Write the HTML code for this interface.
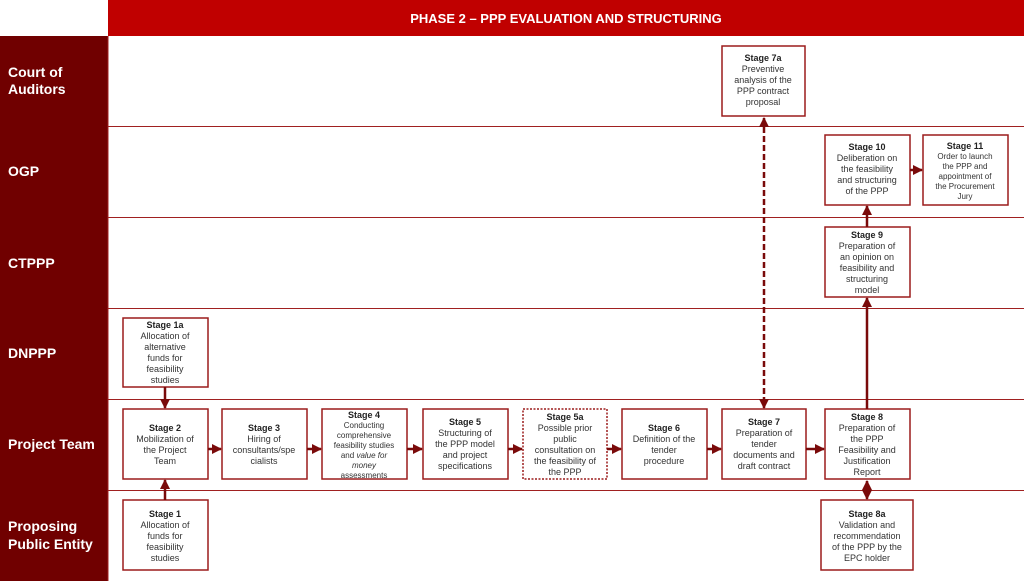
<!DOCTYPE html>
<html><head><meta charset="utf-8"><style>
body{margin:0;width:1024px;height:581px;overflow:hidden;background:#fff;font-family:"Liberation Sans",sans-serif}
svg text{font-family:"Liberation Sans",sans-serif}
</style></head><body>
<svg width="1024" height="581" viewBox="0 0 1024 581" xmlns="http://www.w3.org/2000/svg">
<defs>
<marker id="a" viewBox="0 0 10 10" refX="9" refY="5" markerWidth="4" markerHeight="4" orient="auto-start-reverse"><path d="M0,0L10,5L0,10z" fill="#7a0a0a"/></marker>
</defs>
<rect x="108" y="0" width="916" height="36" fill="#c00000"/>
<text x="566" y="23" fill="#fff" font-size="13" font-weight="bold" text-anchor="middle">PHASE 2 – PPP EVALUATION AND STRUCTURING</text>
<rect x="0" y="36" width="108" height="545" fill="#700000"/>
<g stroke="#a02020" stroke-width="1">
<line x1="108" y1="126.5" x2="1024" y2="126.5"/><line x1="108" y1="217.5" x2="1024" y2="217.5"/>
<line x1="108" y1="308.5" x2="1024" y2="308.5"/><line x1="108" y1="399.5" x2="1024" y2="399.5"/>
<line x1="108" y1="490.5" x2="1024" y2="490.5"/>
<line x1="108" y1="36" x2="108" y2="581"/>
</g>
<g fill="#fff" font-size="14" font-weight="bold">
<text x="8" y="77">Court of</text><text x="8" y="94">Auditors</text>
<text x="8" y="176">OGP</text><text x="8" y="268">CTPPP</text><text x="8" y="358">DNPPP</text>
<text x="8" y="449">Project Team</text>
<text x="8" y="531">Proposing</text><text x="8" y="549">Public Entity</text>
</g>
<g fill="#fff" stroke="#9b1c1c" stroke-width="1.5">
<rect x="722" y="46" width="83" height="70"/>
<rect x="825" y="135" width="85" height="70"/><rect x="923" y="135" width="85" height="70"/>
<rect x="825" y="227" width="85" height="70"/>
<rect x="123" y="318" width="85" height="69"/>
<rect x="123" y="409" width="85" height="70"/><rect x="222" y="409" width="85" height="70"/>
<rect x="322" y="409" width="85" height="70"/><rect x="423" y="409" width="85" height="70"/>
<rect x="523" y="409" width="84" height="70" stroke-dasharray="2,1.5"/>
<rect x="622" y="409" width="85" height="70"/><rect x="722" y="409" width="84" height="70"/>
<rect x="825" y="409" width="85" height="70"/>
<rect x="123" y="500" width="85" height="70"/><rect x="821" y="500" width="92" height="70"/>
</g>
<g stroke="#7a0a0a" stroke-width="2.5" fill="none" marker-end="url(#a)">
<line x1="165" y1="387" x2="165" y2="408"/>
<line x1="165" y1="500" x2="165" y2="480"/>
<line x1="208" y1="449" x2="221" y2="449"/>
<line x1="307" y1="449" x2="321" y2="449"/>
<line x1="407" y1="449" x2="422" y2="449"/>
<line x1="508" y1="449" x2="522" y2="449"/>
<line x1="607" y1="449" x2="621" y2="449"/>
<line x1="707" y1="449" x2="721" y2="449"/>
<line x1="806" y1="449" x2="824" y2="449"/>
<line x1="910" y1="170" x2="922" y2="170"/>
<line x1="867" y1="409" x2="867" y2="298"/>
<line x1="867" y1="227" x2="867" y2="206"/>
<line x1="764" y1="118" x2="764" y2="408" stroke-dasharray="6,3" marker-start="url(#a)"/>
<line x1="867" y1="481" x2="867" y2="499" marker-start="url(#a)"/>
</g>
<g font-size="9" fill="#333" text-anchor="middle">
<text x="763" y="61"><tspan font-weight="bold" fill="#222">Stage 7a</tspan><tspan x="763" dy="11">Preventive</tspan><tspan x="763" dy="11">analysis of the</tspan><tspan x="763" dy="11">PPP contract</tspan><tspan x="763" dy="11">proposal</tspan></text>
<text x="867" y="150"><tspan font-weight="bold" fill="#222">Stage 10</tspan><tspan x="867" dy="11">Deliberation on</tspan><tspan x="867" dy="11">the feasibility</tspan><tspan x="867" dy="11">and structuring</tspan><tspan x="867" dy="11">of the PPP</tspan></text>
<text x="965" y="149" font-size="8"><tspan font-weight="bold" fill="#222" font-size="9">Stage 11</tspan><tspan x="965" dy="10">Order to launch</tspan><tspan x="965" dy="10">the PPP and</tspan><tspan x="965" dy="10">appointment of</tspan><tspan x="965" dy="10">the Procurement</tspan><tspan x="965" dy="10">Jury</tspan></text>
<text x="867" y="238"><tspan font-weight="bold" fill="#222">Stage 9</tspan><tspan x="867" dy="11">Preparation of</tspan><tspan x="867" dy="11">an opinion on</tspan><tspan x="867" dy="11">feasibility and</tspan><tspan x="867" dy="11">structuring</tspan><tspan x="867" dy="11">model</tspan></text>
<text x="165" y="328"><tspan font-weight="bold" fill="#222">Stage 1a</tspan><tspan x="165" dy="11">Allocation of</tspan><tspan x="165" dy="11">alternative</tspan><tspan x="165" dy="11">funds for</tspan><tspan x="165" dy="11">feasibility</tspan><tspan x="165" dy="11">studies</tspan></text>
<text x="165" y="431"><tspan font-weight="bold" fill="#222">Stage 2</tspan><tspan x="165" dy="11">Mobilization of</tspan><tspan x="165" dy="11">the Project</tspan><tspan x="165" dy="11">Team</tspan></text>
<text x="264" y="431"><tspan font-weight="bold" fill="#222">Stage 3</tspan><tspan x="264" dy="11">Hiring of</tspan><tspan x="264" dy="11">consultants/spe</tspan><tspan x="264" dy="11">cialists</tspan></text>
<text x="364" y="418" font-size="8"><tspan font-weight="bold" fill="#222" font-size="9">Stage 4</tspan><tspan x="364" dy="10">Conducting</tspan><tspan x="364" dy="10">comprehensive</tspan><tspan x="364" dy="10">feasibility studies</tspan><tspan x="364" dy="10">and <tspan font-style="italic">value for</tspan></tspan><tspan x="364" dy="10" font-style="italic">money</tspan><tspan x="364" dy="10">assessments</tspan></text>
<text x="465" y="425"><tspan font-weight="bold" fill="#222">Stage 5</tspan><tspan x="465" dy="11">Structuring of</tspan><tspan x="465" dy="11">the PPP model</tspan><tspan x="465" dy="11">and project</tspan><tspan x="465" dy="11">specifications</tspan></text>
<text x="565" y="420"><tspan font-weight="bold" fill="#222">Stage 5a</tspan><tspan x="565" dy="11">Possible prior</tspan><tspan x="565" dy="11">public</tspan><tspan x="565" dy="11">consultation on</tspan><tspan x="565" dy="11">the feasibility of</tspan><tspan x="565" dy="11">the PPP</tspan></text>
<text x="664" y="431"><tspan font-weight="bold" fill="#222">Stage 6</tspan><tspan x="664" dy="11">Definition of the</tspan><tspan x="664" dy="11">tender</tspan><tspan x="664" dy="11">procedure</tspan></text>
<text x="764" y="425"><tspan font-weight="bold" fill="#222">Stage 7</tspan><tspan x="764" dy="11">Preparation of</tspan><tspan x="764" dy="11">tender</tspan><tspan x="764" dy="11">documents and</tspan><tspan x="764" dy="11">draft contract</tspan></text>
<text x="867" y="420"><tspan font-weight="bold" fill="#222">Stage 8</tspan><tspan x="867" dy="11">Preparation of</tspan><tspan x="867" dy="11">the PPP</tspan><tspan x="867" dy="11">Feasibility and</tspan><tspan x="867" dy="11">Justification</tspan><tspan x="867" dy="11">Report</tspan></text>
<text x="165" y="517"><tspan font-weight="bold" fill="#222">Stage 1</tspan><tspan x="165" dy="11">Allocation of</tspan><tspan x="165" dy="11">funds for</tspan><tspan x="165" dy="11">feasibility</tspan><tspan x="165" dy="11">studies</tspan></text>
<text x="867" y="517"><tspan font-weight="bold" fill="#222">Stage 8a</tspan><tspan x="867" dy="11">Validation and</tspan><tspan x="867" dy="11">recommendation</tspan><tspan x="867" dy="11">of the PPP by the</tspan><tspan x="867" dy="11">EPC holder</tspan></text>
</g>
</svg>
</body></html>
